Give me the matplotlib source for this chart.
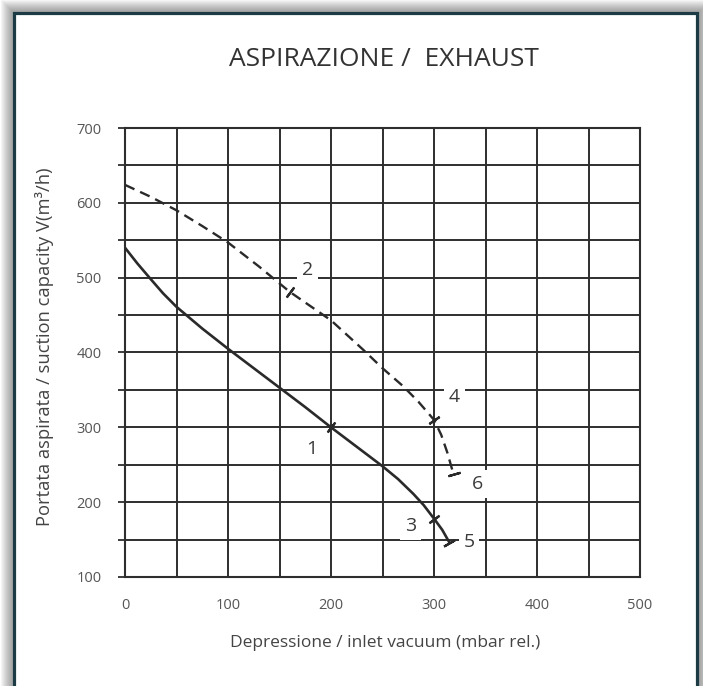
import numpy as np
import matplotlib
matplotlib.use("Agg")
import matplotlib.pyplot as plt
from matplotlib.patches import Rectangle

# ---- data ----
solid_x = [0, 12, 25, 37, 50, 75, 100, 125, 150, 175, 200, 225, 250,
           265, 280, 290, 300, 308, 315]
solid_y = [540, 519, 498, 479, 461, 432, 405, 379, 353, 327, 300, 274, 248,
           231, 211, 196, 178, 163, 146]
dash_x = [0, 25, 50, 75, 100, 130, 160, 200, 231, 250, 270, 285, 300,
          307, 313, 319]
dash_y = [624, 608, 590, 569, 547, 515, 481, 443, 404, 379, 355, 334, 310,
          290, 266, 237]

solid_pts = {"1": 10, "3": 16, "5": 18}
dash_pts = {"2": 6, "4": 12, "6": 15}

point_labels = ["1", "2", "3", "4", "5", "6"]
label_x = [181, 177, 277, 320, 334, 342]
label_y = [271, 510, 168, 341, 147, 224]

x_ticks = [0, 100, 200, 300, 400, 500]
y_ticks = [100, 200, 300, 400, 500, 600, 700]

title = "ASPIRAZIONE /  EXHAUST"
xlabel = "Depressione / inlet vacuum (mbar rel.)"
ylabel = "Portata aspirata / suction capacity V(m\u00b3/h)"

plt.rcParams["lines.scale_dashes"] = False
FONT = ["Open Sans", "DejaVu Sans"]

W, H = 703, 686
fig = plt.figure(figsize=(W / 100, H / 100), dpi=100)

# ---- background shadow / frame ----
yy, xx = np.mgrid[0:H, 0:W]
fx0, fx1, fy0 = 13, 698, 12
d = np.maximum(np.maximum(np.maximum(fx0 - xx, 0), np.maximum(xx - fx1, 0)),
               np.maximum(fy0 - yy, 0)).astype(float)
shade = np.where(d > 0, 0.66 + 0.34 * np.clip((d - 1) / 12.0, 0, 1) ** 1.3, 1.0)
img = np.dstack([shade, shade, shade])
fig.figimage(img, xo=0, yo=0, origin="upper", zorder=-5)
fig.add_artist(Rectangle(((fx0 + 1) / W, -0.05), (fx1 - fx0 - 2) / W, 1.05 - (fy0 + 1.5) / H,
                         transform=fig.transFigure, fill=False,
                         edgecolor="#1c3b45", linewidth=2.3, zorder=5))

# ---- axes ----
ax = fig.add_axes([125 / W, 1 - 577 / H, (640 - 125) / W, (577 - 128) / H])
ax.set_facecolor("white")
ax.set_xlim(0, 500)
ax.set_ylim(100, 700)
ax.set_xticks(x_ticks)
ax.set_xticks(np.arange(0, 501, 50), minor=True)
ax.set_yticks(y_ticks)
ax.set_yticks(np.arange(100, 701, 50), minor=True)
gcol = "#2e2e2e"
ax.grid(True, which="both", color=gcol, linewidth=1.4, zorder=1)
ax.set_axisbelow(True)
for s in ax.spines.values():
    s.set_color(gcol)
    s.set_linewidth(1.5)
ax.tick_params(axis="y", which="both", direction="out", length=5, width=1.3,
               color=gcol, pad=12)
ax.tick_params(axis="x", which="both", length=0, pad=15)
ax.tick_params(labelsize=10.5, labelcolor="#555555")
for lab in ax.get_xticklabels() + ax.get_yticklabels():
    lab.set_family(FONT)

# ---- curves ----
ax.plot(solid_x, solid_y, color="#2a2a2a", linewidth=1.9, zorder=4,
        solid_capstyle="butt", solid_joinstyle="round")
ax.plot(dash_x, dash_y, color="#2a2a2a", linewidth=1.7, zorder=4,
        dashes=(7.5, 4.5))


def line_angle(xs, ys, i):
    p = ax.transData.transform(np.column_stack([xs, ys]))
    j0 = max(i - 1, 0)
    j1 = min(i + 1, len(xs) - 1)
    dv = p[j1] - p[j0]
    return np.degrees(np.arctan2(dv[1], dv[0]))


for xs, ys, pts in [(solid_x, solid_y, solid_pts), (dash_x, dash_y, dash_pts)]:
    for name, i in pts.items():
        ang = line_angle(xs, ys, i)
        ax.plot([xs[i]], [ys[i]], linestyle="none", marker=(2, 2, ang),
                markersize=9, markeredgewidth=1.6, color="#2a2a2a", zorder=5)

for t, lx, ly in zip(point_labels, label_x, label_y):
    ax.text(lx, ly, t, ha="center", va="center", fontsize=14, color="#3a3a3a",
            family=FONT, zorder=3,
            bbox=dict(facecolor="white", edgecolor="none", pad=3.5))

# ---- texts ----
fig.text(384 / W, 1 - 60 / H, title, ha="center", va="center", fontsize=19,
         color="#333333", family=FONT)
fig.text(385 / W, 1 - 643 / H, xlabel, ha="center", va="center", fontsize=12.5,
         color="#444444", family=FONT)
fig.text(45 / W, 1 - 347 / H, ylabel, ha="center", va="center", fontsize=13.2,
         rotation=90, color="#444444", family=FONT)

fig.savefig("out.png", dpi=100)
